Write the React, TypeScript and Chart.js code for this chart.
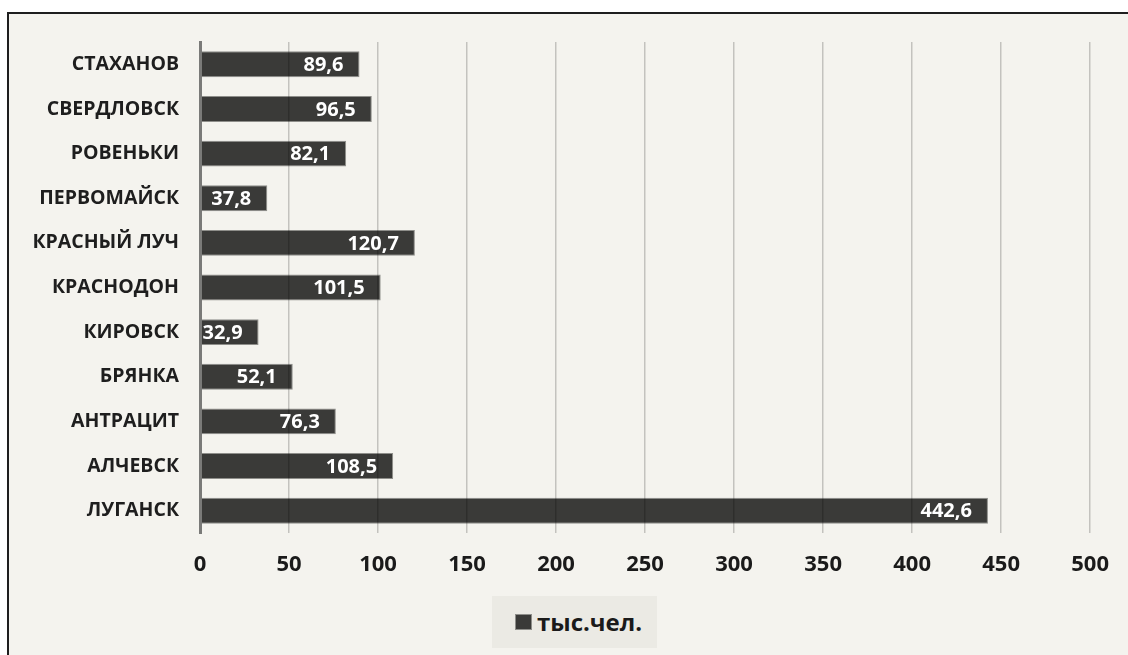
import React, { useEffect, useRef } from "react";
import { Chart, registerables } from "chart.js";

Chart.register(...registerables);

// Население городов, тыс. чел.
const cities = [
  "СТАХАНОВ",
  "СВЕРДЛОВСК",
  "РОВЕНЬКИ",
  "ПЕРВОМАЙСК",
  "КРАСНЫЙ ЛУЧ",
  "КРАСНОДОН",
  "КИРОВСК",
  "БРЯНКА",
  "АНТРАЦИТ",
  "АЛЧЕВСК",
  "ЛУГАНСК",
];
const population = [89.6, 96.5, 82.1, 37.8, 120.7, 101.5, 32.9, 52.1, 76.3, 108.5, 442.6];
const seriesName = "тыс.чел.";
const axisMin = 0;
const axisMax = 500;
const axisStep = 50;

const FONT = "'Open Sans', 'DejaVu Sans', sans-serif";
const BAR_FILL = "#3a3a38";
const BAR_EDGE = "#8e8e8a";
const PANEL_BG = "#f4f3ee";

const fmt = (v: number) => v.toFixed(1).replace(".", ",");

// Values written inside the end of each bar
const valueLabels = {
  id: "valueLabels",
  afterDraw(chart: any) {
    const { ctx } = chart;
    const meta = chart.getDatasetMeta(0);
    const data = chart.data.datasets[0].data as number[];
    ctx.save();
    ctx.font = `bold 20px ${FONT}`;
    ctx.fillStyle = "#ffffff";
    ctx.textAlign = "right";
    ctx.textBaseline = "middle";
    meta.data.forEach((bar: any, i: number) => {
      ctx.fillText(fmt(data[i]), bar.x - 16, bar.y + 1);
    });
    ctx.restore();
  },
};

export default function App() {
  const canvasRef = useRef<HTMLCanvasElement | null>(null);

  useEffect(() => {
    const canvas = canvasRef.current;
    if (!canvas) return;
    const chart = new Chart(canvas, {
      type: "bar",
      data: {
        labels: cities,
        datasets: [
          {
            label: seriesName,
            data: population,
            backgroundColor: BAR_FILL,
            borderColor: BAR_EDGE,
            borderWidth: 1,
            borderSkipped: false,
            categoryPercentage: 1,
            barPercentage: 0.58,
          },
        ],
      },
      options: {
        indexAxis: "y",
        responsive: false,
        animation: false,
        devicePixelRatio: 1,
        layout: { padding: { top: 42, right: 36, left: 0, bottom: 0 } },
        plugins: {
          legend: { display: false },
          tooltip: { enabled: false },
        },
        scales: {
          x: {
            min: axisMin,
            max: axisMax,
            afterFit: (scale: any) => {
              scale.height = 122;
            },
            ticks: {
              stepSize: axisStep,
              padding: 19,
              color: "#1a1a1a",
              font: { family: FONT, size: 22, weight: "bold" },
            },
            grid: {
              color: "rgba(0,0,0,0.2)",
              lineWidth: 1.5,
              drawTicks: false,
              z: 1,
            },
            border: { display: false },
          },
          y: {
            afterFit: (scale: any) => {
              scale.width = 200;
            },
            ticks: {
              padding: 21,
              color: "#1e1e1e",
              font: { family: FONT, size: 19.5, weight: "bold" },
            },
            grid: { display: false, drawTicks: false },
            border: { display: true, color: "#7a7a78", width: 3, z: 2 },
          },
        },
      },
      plugins: [valueLabels],
    });
    return () => chart.destroy();
  }, []);

  return (
    <div
      style={{
        position: "absolute",
        left: 0,
        top: 0,
        width: 1128,
        height: 655,
        overflow: "hidden",
        background: "#ffffff",
      }}
    >
      <div
        style={{
          position: "absolute",
          left: 7,
          top: 12,
          width: 1140,
          height: 660,
          boxSizing: "border-box",
          borderLeft: "2px solid #1e1e1e",
          borderTop: "2px solid #1e1e1e",
          background: PANEL_BG,
        }}
      />
      <canvas
        ref={canvasRef}
        width={1128}
        height={655}
        style={{ position: "absolute", left: 0, top: 0, width: 1128, height: 655 }}
      />
      <div
        style={{
          position: "absolute",
          left: 492,
          top: 596,
          width: 165,
          height: 52,
          background: "#ebeae4",
        }}
      >
        <span
          style={{
            position: "absolute",
            left: 23,
            top: 18,
            width: 15,
            height: 14,
            background: BAR_FILL,
            border: `1px solid ${BAR_EDGE}`,
          }}
        />
        <span
          style={{
            position: "absolute",
            left: 45,
            top: 0,
            lineHeight: "52px",
            fontFamily: FONT,
            fontWeight: 700,
            fontSize: 24,
            color: "#1a1a1a",
            whiteSpace: "nowrap",
          }}
        >
          {seriesName}
        </span>
      </div>
    </div>
  );
}
